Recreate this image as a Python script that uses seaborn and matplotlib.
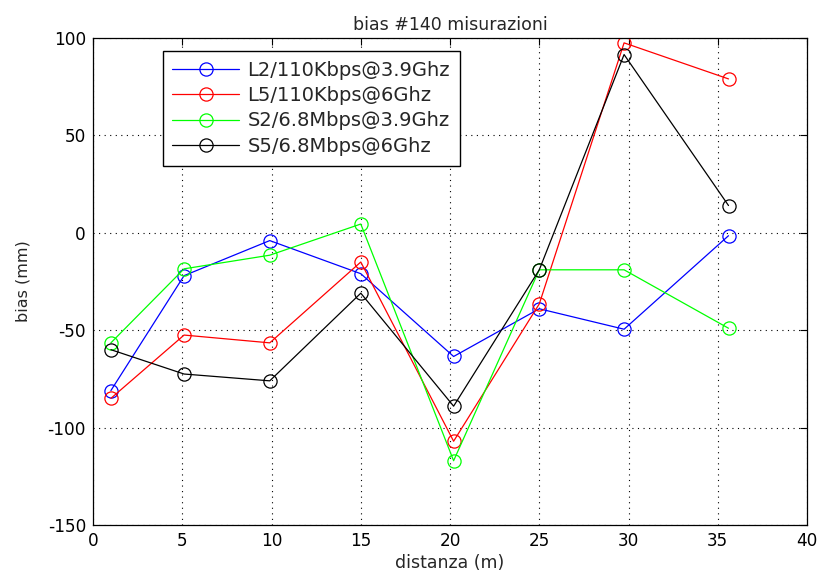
import matplotlib
matplotlib.use("Agg")
import matplotlib.pyplot as plt
import seaborn as sns
import pandas as pd

# distance (m) of each measurement point
distanza = [1.0, 5.1, 9.9, 15.0, 20.2, 25.0, 29.75, 35.6]

# bias (mm) per configuration
l2_110k_39 = [-81, -22, -4, -21, -63.5, -39, -49.5, -1.5]
l5_110k_6 = [-85, -52.5, -56.5, -15, -107, -36.5, 97.5, 79]
s2_68m_39 = [-56.5, -18.5, -11.5, 4.5, -117, -19, -19, -49]
s5_68m_6 = [-60, -72.5, -76, -31, -89, -19, 91.5, 14]

series_names = ["L2/110Kbps@3.9Ghz", "L5/110Kbps@6Ghz",
                "S2/6.8Mbps@3.9Ghz", "S5/6.8Mbps@6Ghz"]
series_values = [l2_110k_39, l5_110k_6, s2_68m_39, s5_68m_6]
series_colors = ["#0000ff", "#ff0000", "#00ff00", "#000000"]

xticks = [0, 5, 10, 15, 20, 25, 30, 35, 40]
yticks = [-150, -100, -50, 0, 50, 100]

sns.set_style("white")
plt.rcParams["font.family"] = ["DejaVu Sans"]
plt.rcParams["axes.unicode_minus"] = False
plt.rcParams["xtick.direction"] = "in"
plt.rcParams["ytick.direction"] = "in"

fig = plt.figure(figsize=(8.19, 5.81), dpi=100)
ax = fig.add_axes([0.1136, 0.0964, 0.8718, 0.8382])

for name, vals, col in zip(series_names, series_values, series_colors):
    df = pd.DataFrame({"distanza": distanza, "bias": vals})
    sns.lineplot(data=df, x="distanza", y="bias", ax=ax, color=col,
                 marker="o", markersize=9.5, markerfacecolor="none",
                 markeredgecolor=col, markeredgewidth=0.9, linewidth=0.9,
                 label=name, sort=False)

ax.set_xlim(0, 40)
ax.set_ylim(-150, 100)
ax.set_xticks(xticks)
ax.set_yticks(yticks)
ax.tick_params(axis="both", labelsize=12.2, colors="black", length=5,
               width=0.8, top=True, right=True)
ax.tick_params(axis="x", pad=5)
ax.tick_params(axis="y", pad=5)
for s in ax.spines.values():
    s.set_visible(True)
    s.set_color("black")
    s.set_linewidth(0.9)
ax.grid(True, linestyle=(0, (1, 4)), color="black", linewidth=0.8)

ax.set_title("bias #140 misurazioni", fontsize=12.5, pad=6)
ax.set_xlabel("distanza (m)", fontsize=12.5, labelpad=3)
ax.set_ylabel("bias (mm)", fontsize=11.5, labelpad=12)

leg = ax.legend(loc="upper left", bbox_to_anchor=(0.0976, 0.9735),
                borderaxespad=0, fancybox=False, edgecolor="black",
                framealpha=1, fontsize=14, handlelength=3.4,
                labelspacing=0.33, handletextpad=0.45, borderpad=0.5)
leg.get_frame().set_linewidth(1.0)

fig.savefig("out.png", dpi=100, facecolor="white")
